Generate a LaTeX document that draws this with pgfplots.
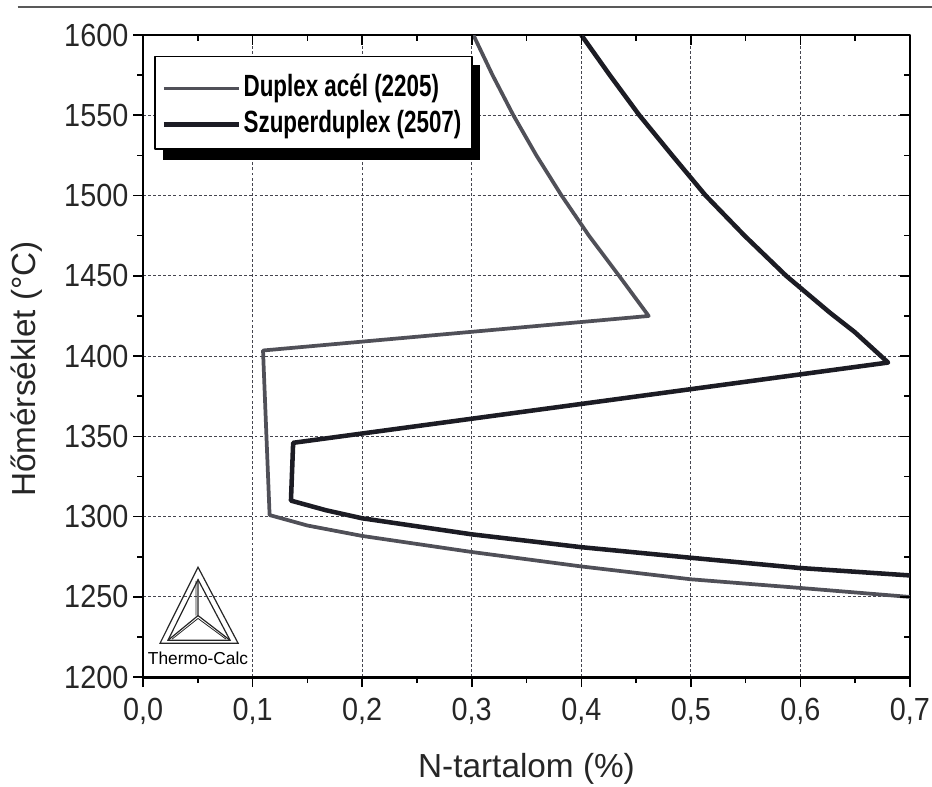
\documentclass[border=0pt]{standalone}
\usepackage{fontspec}
\setmainfont{Liberation Sans}
\newfontfamily\narrowbold[FakeStretch=0.73]{Liberation Sans}
\newfontfamily\tickfont[FakeStretch=0.9]{Liberation Sans}
\usepackage{pgfplots}
\pgfplotsset{compat=1.18}

\definecolor{duplex}{HTML}{505058}
\definecolor{superd}{HTML}{1C1C24}
\definecolor{gridc}{HTML}{45454F}

\begin{document}
\begin{tikzpicture}
\begin{axis}[name=main,
  scale only axis, width=575pt, height=481.5pt,
  xmin=0, xmax=0.7, ymin=1200, ymax=1600,
  xtick={0,0.1,...,0.7}, ytick={1200,1250,...,1600},
  minor x tick num=1, minor y tick num=1,
  tick pos=left, tick align=outside,
  major tick length=7.5pt, minor tick length=4.5pt,
  every tick/.style={black, line width=1.2pt},
  axis line style={black, line width=2pt},
  grid=major,
  major grid style={dash pattern=on 2.2pt off 1.6pt, gridc, line width=0.7pt},
  scaled ticks=false,
  tick label style={font=\tickfont\fontsize{24}{28}\selectfont, black!85},
  /pgf/number format/assume math mode=true,
  x tick label style={yshift=-5pt, /pgf/number format/.cd, use comma, fixed, fixed zerofill, precision=1},
  y tick label style={/pgf/number format/.cd, fixed, precision=0, 1000 sep={}},
  xlabel={N-tartalom (\%)}, ylabel={Hőmérséklet (°C)},
  label style={font=\fontsize{25}{30}\selectfont, black!85},
  xlabel style={at={(axis description cs:0.5,0)}, anchor=base, yshift=-75.5pt},
  ylabel style={at={([xshift=-81pt]axis description cs:0,0.48)}, anchor=base, rotate=0},
  legend cell align=left,
  legend image code/.code={\draw[#1] (0pt,0pt) -- (56pt,0pt);},
  legend style={at={(0.024,0.942)}, anchor=north west, draw=none, fill=none,
    font=\narrowbold\bfseries\fontsize{23}{27}\selectfont,
    inner xsep=0pt, inner ysep=0pt, row sep=3pt,
    nodes={text height=16pt, text depth=4pt, inner ysep=2pt, inner xsep=2pt}},
  line join=round,
]
\addplot[duplex, line width=2.8pt] coordinates {
  (0.3015,1600) (0.319,1575) (0.338,1550) (0.359,1525) (0.382,1500)
  (0.407,1475) (0.4345,1450) (0.4615,1425)
  (0.1095,1403.5) (0.1155,1301)
  (0.15,1294.5) (0.2,1288) (0.3,1278) (0.4,1269) (0.5,1261)
  (0.6,1255.6) (0.7,1250)
};
\addlegendentry{Duplex acél (2205)}
\addplot[superd, line width=3.4pt] coordinates {
  (0.400,1600) (0.426,1575) (0.453,1550) (0.483,1525) (0.5135,1500)
  (0.549,1475) (0.587,1450) (0.627,1427) (0.6495,1415) (0.68,1396)
  (0.137,1346) (0.135,1310)
  (0.167,1304) (0.2,1299) (0.3,1289) (0.4,1281) (0.5,1274.4)
  (0.6,1268) (0.7,1263.4)
};
\addlegendentry{Szuperduplex (2507)}

% legend frame with its shadow
\fill[black] (rel axis cs:0.026,0.9533) rectangle (rel axis cs:0.4394,0.8053);
\filldraw[fill=white, draw=black, line width=0.9pt]
  (rel axis cs:0.0156,0.967) rectangle (rel axis cs:0.4289,0.8224);

% Thermo-Calc logo
\draw[black!85, line width=0.9pt, line join=miter]
  (rel axis cs:0.0717,0.1713) -- (rel axis cs:0.0222,0.0530) -- (rel axis cs:0.1239,0.0530) -- cycle;
\draw[black!85, line width=0.9pt, line join=miter]
  (rel axis cs:0.0717,0.1520) -- (rel axis cs:0.0325,0.0575) -- (rel axis cs:0.1135,0.0575) -- cycle;
\draw[black!85, line width=0.9pt]
  (rel axis cs:0.0717,0.0960) -- (rel axis cs:0.0717,0.1520)
  (rel axis cs:0.0717,0.0960) -- (rel axis cs:0.0325,0.0575)
  (rel axis cs:0.0717,0.0960) -- (rel axis cs:0.1135,0.0575);
\draw[black!85, line width=0.6pt]
  (rel axis cs:0.0690,0.0960) -- (rel axis cs:0.0690,0.1500)
  (rel axis cs:0.0717,0.0915) -- (rel axis cs:0.0380,0.0595)
  (rel axis cs:0.0717,0.0915) -- (rel axis cs:0.1080,0.0595);
\node[font=\fontsize{13}{13}\selectfont, inner sep=0pt, black] at (rel axis cs:0.0717,0.030) {Thermo-Calc};
\end{axis}
\begin{axis}[
  scale only axis, width=575pt, height=481.5pt,
  xmin=0, xmax=0.7, ymin=1200, ymax=1600,
  xtick={0,0.1,...,0.7}, ytick={1200,1250,...,1600},
  minor x tick num=1, minor y tick num=1,
  tick pos=right, tick align=inside,
  major tick length=7.5pt, minor tick length=4.5pt,
  every tick/.style={black, line width=1.2pt},
  axis line style={draw=none},
  xticklabels={}, yticklabels={},
]
\end{axis}
\draw[black!65, line width=1pt] ([shift={(-94pt,21pt)}]main.north west) -- ([shift={(16.5pt,21pt)}]main.north east);
\pgfresetboundingbox
\path[use as bounding box] ([shift={(-107.25pt,-81.75pt)}]main.south west) rectangle ([shift={(16.5pt,26.25pt)}]main.north east);
\end{tikzpicture}
\end{document}
